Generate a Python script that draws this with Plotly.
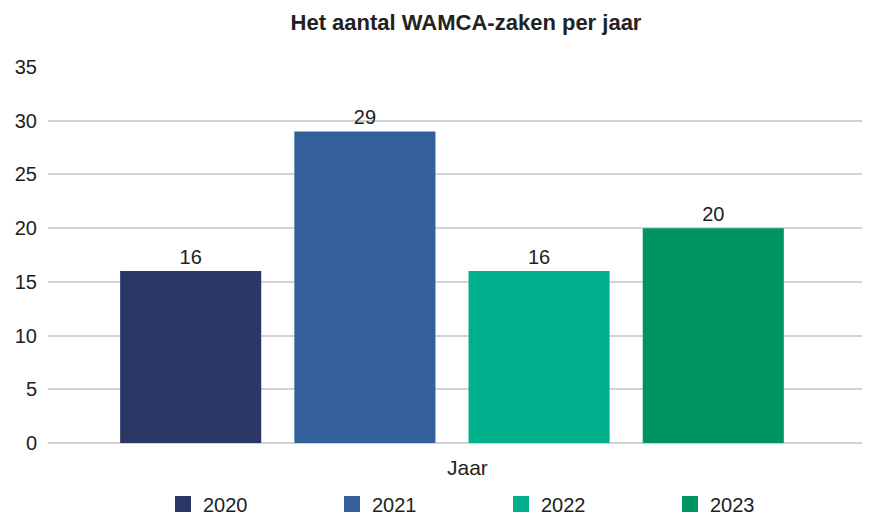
import plotly.graph_objects as go

category = ["Jaar"]
years = ["2020", "2021", "2022", "2023"]
values = [16, 29, 16, 20]
colors = ["#2b3866", "#33609d", "#00b08c", "#009464"]

FONT = "Liberation Sans, Arial, Helvetica, sans-serif"
FS = 20

fig = go.Figure()
for y, v, c in zip(years, values, colors):
    fig.add_trace(go.Bar(
        name=y, x=category, y=[v], marker_color=c, marker_line_width=0,
        text=[str(v)], textposition="outside", cliponaxis=False,
        textfont=dict(size=FS, color="#222222", family=FONT),
        showlegend=False, legendgroup=y,
    ))
# legend entries (square swatches)
for y, c in zip(years, colors):
    fig.add_trace(go.Scatter(
        name=y, x=[None], y=[None], mode="markers", legendgroup=y,
        marker=dict(symbol="square", size=20, color=c, line_width=0),
        showlegend=True, hoverinfo="skip",
    ))

fig.add_annotation(text=category[0], xref="paper", yref="paper",
                   x=(467 - 48) / 814, y=-(467 - 443) / 376, xanchor="center", yanchor="middle",
                   showarrow=False, font=dict(size=21, color="#222222"))

fig.update_layout(
    width=876, height=516,
    margin=dict(l=48, r=14, t=67, b=73, autoexpand=False),
    paper_bgcolor="white", plot_bgcolor="white",
    font=dict(family=FONT, size=FS, color="#222222"),
    title=dict(text="<b>Het aantal WAMCA-zaken per jaar</b>", xref="container", x=466 / 876,
               xanchor="center", y=1 - 22 / 516, yanchor="middle",
               font=dict(size=22, color="#222222")),
    barmode="group", bargap=0.144, bargroupgap=0.19,
    showlegend=True,
    legend=dict(orientation="h", xref="container", x=163 / 876, xanchor="left",
                yref="container", y=(516 - 504) / 516, yanchor="middle",
                font=dict(size=FS, color="#222222"), itemsizing="trace",
                entrywidth=124, entrywidthmode="pixels"),
    xaxis=dict(showgrid=False, showline=False, ticks="", showticklabels=False,
               automargin=False, range=[-0.4963, 0.5037]),
    yaxis=dict(range=[0, 35], dtick=5, showgrid=True, gridcolor="#d3d3d3", gridwidth=2,
               zeroline=True, zerolinecolor="#d3d3d3", zerolinewidth=2, automargin=False,
               showline=False, ticks="", tickfont=dict(size=FS), ticklabelstandoff=10),
)

fig.write_html("out.html")
